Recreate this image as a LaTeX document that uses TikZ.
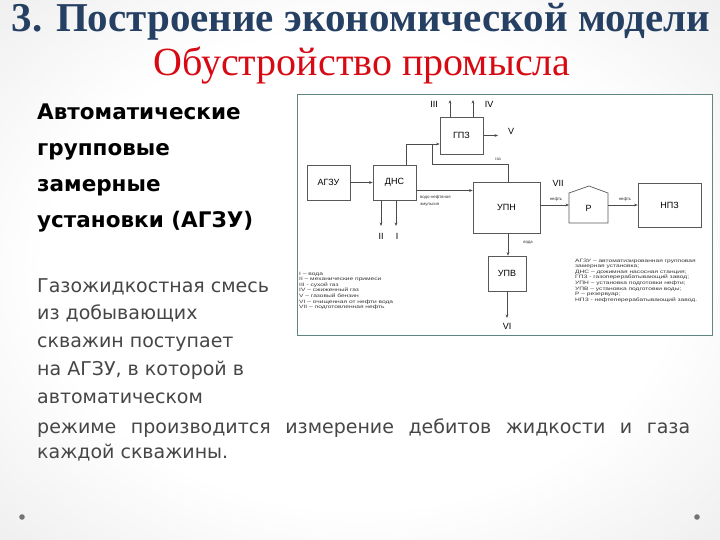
\documentclass[tikz,border=0pt]{standalone}
\usepackage{fontspec}
\setmainfont{Liberation Serif}
\newfontfamily\djf{DejaVu Sans}
\newfontfamily\arf{Liberation Sans}
\usetikzlibrary{arrows.meta,calc}
\definecolor{titleblue}{RGB}{38,64,100}
\definecolor{subred}{RGB}{215,10,20}
\definecolor{framec}{RGB}{95,135,130}
\definecolor{bodyc}{RGB}{70,70,70}
\pgfdeclareradialshading{bgshade}{\pgfpoint{0bp}{0bp}}{color(0bp)=(white); color(22bp)=(white); color(50bp)=(black!13); color(71bp)=(black!20)}
\newcommand{\legtab}[1]{\scalebox{1.38}[1]{\begin{tabular}{@{}l@{}}#1\end{tabular}}}
\begin{document}
\begin{tikzpicture}[x=1pt,y=-1pt,
  box/.style={draw=black!65, line width=0.7pt, fill=white, inner sep=0pt, font=\arf\fontsize{9}{10}\selectfont},
  ln/.style={draw=black!70, line width=0.6pt},
  arr/.style={ln, -{Stealth[length=3.5pt,width=2.8pt]}},
  rom/.style={font=\arf\fontsize{9}{10}\selectfont, inner sep=0pt},
  tiny/.style={font=\arf\fontsize{4.3}{5}\selectfont, inner sep=0pt, text=black!80},
  legend/.style={font=\arf\fontsize{4.8}{5.6}\selectfont, inner sep=0pt, text=black!80},
  bold/.style={font=\djf\bfseries\fontsize{21.5}{24}\selectfont, inner sep=0pt, anchor=base west},
  body/.style={font=\djf\fontsize{19}{22}\selectfont, inner sep=0pt, anchor=base west, text=bodyc}
]
\useasboundingbox (0,0) rectangle (720,540);
\shade[shading=bgshade] (0,0) rectangle (720,540);

% titles
\node[font=\fontsize{41}{44}\selectfont\bfseries, text=titleblue, inner sep=0pt] (t1) at (361,22) {3. Построение экономической модели};
\node[font=\fontsize{40}{44}\selectfont, text=subred, inner sep=0pt] (t2) at (362,66) {Обустройство промысла};

% left bold text
\node[bold] (b1) at (37,120) {Автоматические};
\node[bold] (b2) at (37,156) {групповые};
\node[bold] (b3) at (37,192) {замерные};
\node[bold] (b4) at (37,228) {установки (АГЗУ)};

% body text
\node[body] (p1) at (37,292) {Газожидкостная смесь};
\node[body] (p2) at (37,319) {из добывающих};
\node[body] (p3) at (37,347) {скважин поступает};
\node[body] (p4) at (37,375) {на АГЗУ, в которой в};
\node[body] (p5) at (37,403) {автоматическом};
\node[body] (p6) at (37,433) {\makebox[653pt][s]{режиме производится измерение дебитов жидкости и газа}};
\node[body] (p7) at (37,458) {каждой скважины.};

% diagram frame
\draw[framec, line width=1pt, fill=white] (297,95) rectangle (712,335);

% boxes
\node[box, minimum width=43pt, minimum height=37pt] (gpz) at (461.5,135.5) {ГПЗ};
\node[box, minimum width=43pt, minimum height=35pt] (agzu) at (328.5,182.5) {АГЗУ};
\node[box, minimum width=43pt, minimum height=35pt] (dns) at (394.5,182.5) {ДНС};
\node[box, minimum width=67pt, minimum height=51pt] (upn) at (506.5,207.5) {УПН};
\node[box, minimum width=63pt, minimum height=44pt] (npz) at (669.5,205) {НПЗ};
\node[box, minimum width=38pt, minimum height=35pt] (upv) at (507,273.5) {УПВ};

% tank
\draw[draw=black!65, line width=0.7pt, fill=white] (569,223) -- (569,193) -- (589,186) -- (608,193) -- (608,223) -- cycle;
\node[font=\arf\fontsize{9}{10}\selectfont, inner sep=0pt] (p) at (588.5,208) {Р};
\coordinate (pL) at (569,205);
\coordinate (pR) at (608,205);

% connectors
\draw[arr] (agzu) -- (dns);
\draw[arr] ($(dns.north east)+(-10,0)$) |- ($(gpz.west)+(0,8.5)$);
\coordinate (gc) at (432,164);
\coordinate (gj) at (432,144);
\draw[ln] ($(upn.north)+(1.5,0)$) |- (gc) -- (gj);
\draw[arr] ($(dns.east)+(0,8)$) -- ($(upn.west |- dns.east)+(0,8)$);
\draw[arr] (upn.east |- pL) -- (pL);
\draw[arr] (pR) -- (npz.west |- pR);
\draw[arr] ($(upn.south)+(1.5,0)$) -- ($(upv.north)+(1,0)$);
\coordinate (vi) at (507,318);
\draw[arr] (upv.south) -- (vi);
\coordinate (iii) at (450,100);
\coordinate (iv) at (473,100);
\draw[arr] (gpz.north -| iii) -- (iii);
\draw[arr] (gpz.north -| iv) -- (iv);
\coordinate (v) at (498,135.5);
\draw[arr] (gpz.east) -- (v);
\coordinate (ii) at (381,226);
\coordinate (i) at (396,226);
\draw[arr] (dns.south -| ii) -- (ii);
\draw[arr] (dns.south -| i) -- (i);

% labels
\node[rom] (lIII) at (434,104) {III};
\node[rom] (lIV) at (489,104) {IV};
\node[rom] (lV) at (511,131) {V};
\node[rom] (lII) at (381,236) {II};
\node[rom] (lI) at (397,236) {I};
\node[rom] (lVII) at (558,183) {VII};
\node[rom] (lVI) at (507,326) {VI};
\node[tiny] (gas) at (498,159) {газ};
\node[tiny, anchor=west] (em1) at (420,197) {водо-нефтяная};
\node[tiny, anchor=west] (em2) at (420,204.5) {эмульсия};
\node[tiny] (n1) at (556,199) {нефть};
\node[tiny] (n2) at (625,199) {нефть};
\node[tiny] (w) at (528,243) {вода};

% legends
\node[legend, anchor=north west] (leg1) at (299,271) {\legtab{I – вода\\II – механические примеси\\III - сухой газ\\IV – сжиженный газ\\V – газовый бензин\\VI – очищенная от нефти вода\\VII – подготовленная нефть}};
\node[legend, anchor=north west] (leg2) at (575,258) {\legtab{АГЗУ – автоматизированная групповая\\замерная установка;\\ДНС – дожимная насосная станция;\\ГПЗ - газоперерабатывающий завод;\\УПН – установка подготовки нефти;\\УПВ – установка подготовки воды;\\Р – резервуар;\\НПЗ - нефтеперерабатывающий завод.}};

% dots
\fill[black!55] (22,517) circle (2.8);
\fill[black!55] (697,517) circle (2.8);
\end{tikzpicture}
\end{document}
